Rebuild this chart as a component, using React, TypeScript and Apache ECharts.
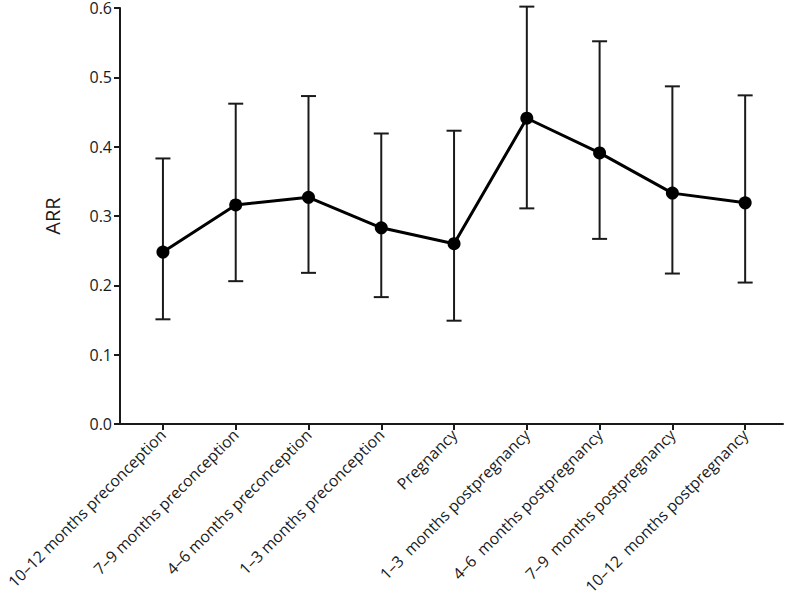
import React, { useEffect, useRef } from "react";
import * as echarts from "echarts";

const categories = [
  "10–12 months preconception",
  "7–9 months preconception",
  "4–6 months preconception",
  "1–3 months preconception",
  "Pregnancy",
  "1–3  months postpregnancy",
  "4–6  months postpregnancy",
  "7–9  months postpregnancy",
  "10–12  months postpregnancy",
];
const arr = [0.248, 0.316, 0.327, 0.283, 0.26, 0.441, 0.391, 0.333, 0.319];
const upper = [0.383, 0.462, 0.473, 0.419, 0.423, 0.602, 0.552, 0.487, 0.474];
const lower = [0.151, 0.206, 0.218, 0.183, 0.149, 0.311, 0.267, 0.217, 0.204];
const yTicks = [0, 0.1, 0.2, 0.3, 0.4, 0.5, 0.6];

const FONT = "Open Sans";
const INK = "#1a1a1a";

export default function App() {
  const ref = useRef<HTMLDivElement>(null);
  useEffect(() => {
    if (!ref.current) return;
    const chart = echarts.init(ref.current, undefined, { renderer: "svg" });
    const idx = categories.map((_, i) => i);
    chart.setOption({
      animation: false,
      grid: { left: 120, right: 3, top: 8, bottom: 184, containLabel: false, outerBoundsMode: "none" },
      xAxis: {
        type: "value",
        min: -0.59,
        max: 8.52,
        splitLine: { show: false },
        axisLine: { show: true, onZero: false, lineStyle: { color: INK, width: 2 } },
        axisTick: {
          show: true,
          customValues: idx,
          length: 6,
          lineStyle: { color: INK, width: 2 },
        },
        axisLabel: {
          customValues: idx,
          rotate: 45,
          margin: 8,
          fontFamily: FONT,
          fontSize: 15.8,
          color: INK,
          formatter: (v: number) => categories[Math.round(v)] ?? "",
        },
      },
      yAxis: {
        type: "value",
        min: 0,
        max: 0.6,
        interval: 0.1,
        name: "ARR",
        nameLocation: "middle",
        nameGap: 58,
        nameRotate: 90,
        nameTextStyle: { fontFamily: FONT, fontSize: 20, color: INK },
        splitLine: { show: false },
        axisLine: { show: true, onZero: false, lineStyle: { color: INK, width: 2 } },
        axisTick: { show: true, length: 6, lineStyle: { color: INK, width: 2 } },
        axisLabel: {
          margin: 8,
          fontFamily: FONT,
          fontSize: 16,
          color: INK,
          customValues: yTicks,
          formatter: (v: number) => v.toFixed(1),
        },
      },
      series: [
        {
          type: "custom",
          data: idx.map((i) => [i, lower[i], upper[i]]),
          renderItem: (params: any, api: any) => {
            const x = api.value(0);
            const lo = api.coord([x, api.value(1)]);
            const hi = api.coord([x, api.value(2)]);
            const half = 7.5;
            const style = { stroke: INK, lineWidth: 2 };
            return {
              type: "group",
              children: [
                { type: "line", shape: { x1: lo[0], y1: lo[1], x2: hi[0], y2: hi[1] }, style },
                { type: "line", shape: { x1: hi[0] - half, y1: hi[1], x2: hi[0] + half, y2: hi[1] }, style },
                { type: "line", shape: { x1: lo[0] - half, y1: lo[1], x2: lo[0] + half, y2: lo[1] }, style },
              ],
            };
          },
          z: 1,
        },
        {
          type: "line",
          data: idx.map((i) => [i, arr[i]]),
          symbol: "circle",
          symbolSize: 13,
          lineStyle: { color: "#000", width: 3 },
          itemStyle: { color: "#000" },
          z: 2,
        },
      ],
    });
    return () => chart.dispose();
  }, []);
  return <div ref={ref} style={{ width: 786, height: 608, position: "absolute", left: 0, top: 0 }} />;
}
